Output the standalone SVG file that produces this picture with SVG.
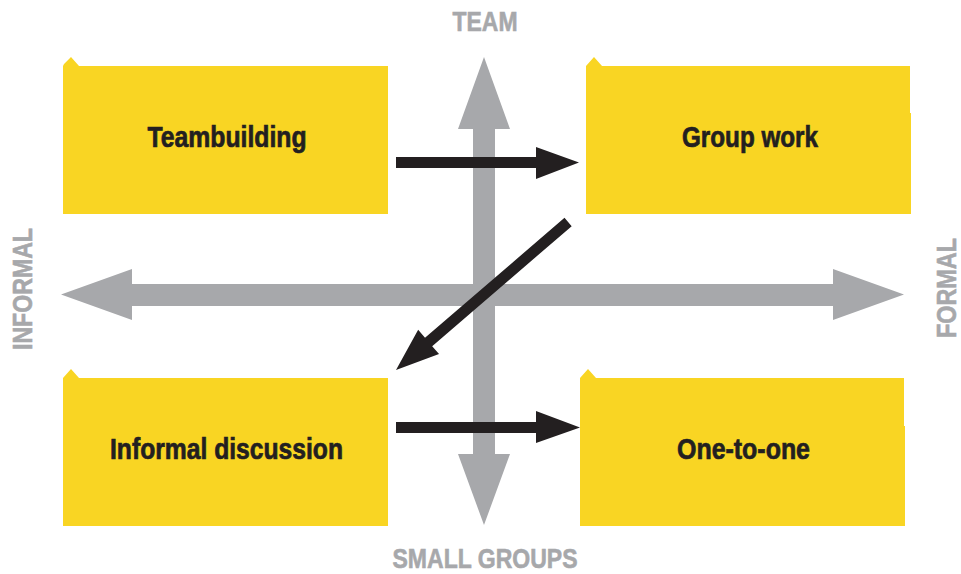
<svg xmlns="http://www.w3.org/2000/svg" width="961" height="574" viewBox="0 0 961 574">
  <style>
    .box { fill: #f9d523; }
    .label { font-family: "Liberation Sans", Arial, sans-serif; font-weight: bold; font-size: 29px; fill: #231f20; stroke: #231f20; stroke-width: 0.7; }
    .axis-label { font-family: "Liberation Sans", Arial, sans-serif; font-weight: bold; font-size: 27px; fill: #a7a8ab; stroke: #a7a8ab; stroke-width: 0.6; }
    .axis { fill: #a7a8ab; }
    .flow { fill: #231f20; }
  </style>
  <rect width="961" height="574" fill="#ffffff"/>

  <!-- axes -->
  <g id="axes">
    <!-- vertical: team / small groups -->
    <path class="axis" d="M484 57 L510 129 L495 129 L495 454 L510 454 L484 525 L458 454 L473 454 L473 129 L458 129 Z"/>
    <!-- horizontal: informal / formal -->
    <path class="axis" d="M61 294.5 L132 269 L132 284 L833 284 L833 269 L904 294.5 L833 320 L833 306 L132 306 L132 320 Z"/>
    <text class="axis-label" x="485" y="31" text-anchor="middle" textLength="65" lengthAdjust="spacingAndGlyphs">TEAM</text>
    <text class="axis-label" x="485" y="568" text-anchor="middle" textLength="185" lengthAdjust="spacingAndGlyphs">SMALL GROUPS</text>
    <text class="axis-label" transform="translate(32 289) rotate(-90)" text-anchor="middle" textLength="122" lengthAdjust="spacingAndGlyphs">INFORMAL</text>
    <text class="axis-label" transform="translate(956 288) rotate(-90)" text-anchor="middle" textLength="100" lengthAdjust="spacingAndGlyphs">FORMAL</text>
  </g>

  <g id="teambuilding">
    <path class="box" d="M63 66 L64 64 L71 57 L79 66 L388 66 L388 214 L63 214 Z"/>
    <text class="label" x="227" y="147" text-anchor="middle" textLength="159" lengthAdjust="spacingAndGlyphs">Teambuilding</text>
  </g>

  <g id="group-work">
    <path class="box" d="M586 66 L594 57 L602 66 L910 66 L910 113 L911 113 L911 214 L586 214 Z"/>
    <text class="label" x="750" y="147" text-anchor="middle" textLength="136" lengthAdjust="spacingAndGlyphs">Group work</text>
  </g>

  <g id="informal-discussion">
    <path class="box" d="M63 378 L71 369 L79 378 L388 378 L388 526 L63 526 Z"/>
    <text class="label" x="226.5" y="459" text-anchor="middle" textLength="233" lengthAdjust="spacingAndGlyphs">Informal discussion</text>
  </g>

  <g id="one-to-one">
    <path class="box" d="M580 378 L588 369 L596 378 L904 378 L904 426 L905 426 L905 526 L580 526 Z"/>
    <text class="label" x="743.5" y="459" text-anchor="middle" textLength="133" lengthAdjust="spacingAndGlyphs">One-to-one</text>
  </g>

  <!-- flow arrows -->
  <g id="connectors">
    <path class="flow" d="M396 157 L536 157 L536 147 L579 162.5 L536 179 L536 168 L396 168 Z"/>
    <path class="flow" d="M396 422 L536 422 L536 411 L580 427.5 L536 443 L536 433 L396 433 Z"/>
    <g transform="translate(396 370) rotate(-40.7)">
      <path class="flow" d="M0 0 L43 -16 L43 -5.5 L227 -5.5 L227 5.5 L43 5.5 L43 16 Z"/>
    </g>
  </g>
</svg>
